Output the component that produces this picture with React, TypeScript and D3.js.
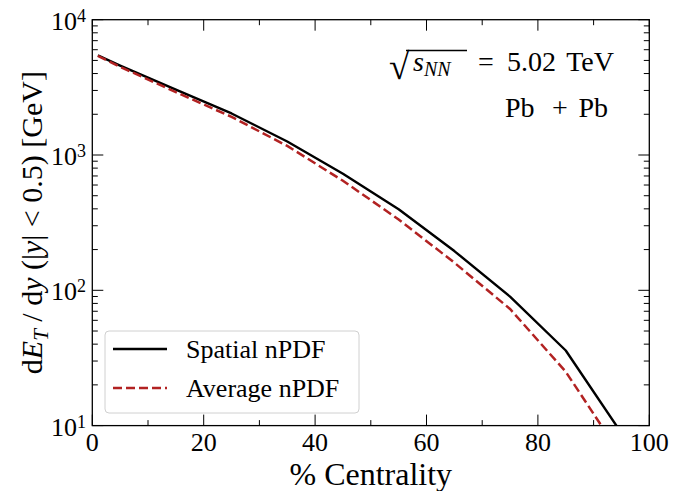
import React from "react";
import * as d3 from "d3";

const centrality = [1, 5, 15, 25, 35, 45, 55, 65, 75, 85, 95];
const spatial = [5445, 4580, 3040, 2028, 1259, 726, 397, 195, 89.8, 35.9, 8.8];
const average = [5395, 4480, 2917, 1914, 1167, 645, 334, 160, 72.8, 25.0, 5.97];
const xTicks = [0, 20, 40, 60, 80, 100];
const xMinor = [10, 30, 50, 70, 90];
const yExps = [1, 2, 3, 4];
const seriesNames = ["Spatial nPDF", "Average nPDF"];

const W = 685, H = 491;
const L = 92.3, R = 649.3, T = 19.7, B = 425.6;
const FONT = "'Liberation Serif', 'Times New Roman', serif";

export default function App() {
  const x = d3.scaleLinear().domain([0, 100]).range([L, R]);
  const y = d3.scaleLog().domain([10, 10000]).range([B, T]);
  const line = d3.line<number>().x((_, i) => x(centrality[i])).y((d) => y(d));
  const yMinor: number[] = [];
  for (let e = 1; e < 4; e++) for (let k = 2; k <= 9; k++) yMinor.push(k * Math.pow(10, e));
  const MAJ = 11, MIN = 5.5;
  const tickStroke = { stroke: "#000", strokeWidth: 1 };
  return (
    <svg width={W} height={H} style={{ position: "absolute", left: 0, top: 0, background: "#fff" }} fontFamily={FONT}>
      <defs>
        <clipPath id="plotclip">
          <rect x={L} y={T} width={R - L} height={B - T} />
        </clipPath>
      </defs>
      <g clipPath="url(#plotclip)">
        <path d={line(spatial) || ""} fill="none" stroke="#000" strokeWidth={2.4} strokeLinejoin="round" />
        <path d={line(average) || ""} fill="none" stroke="#b22222" strokeWidth={2.5} strokeDasharray="9,4" />
      </g>
      {xTicks.map((t) => (
        <g key={"xt" + t}>
          <line x1={x(t)} x2={x(t)} y1={B} y2={B - MAJ} {...tickStroke} />
          <line x1={x(t)} x2={x(t)} y1={T} y2={T + MAJ} {...tickStroke} />
          <text x={x(t)} y={B + 25} textAnchor="middle" fontSize={26}>{t}</text>
        </g>
      ))}
      {xMinor.map((t) => (
        <g key={"xm" + t}>
          <line x1={x(t)} x2={x(t)} y1={B} y2={B - MIN} {...tickStroke} />
          <line x1={x(t)} x2={x(t)} y1={T} y2={T + MIN} {...tickStroke} />
        </g>
      ))}
      {yExps.map((e) => {
        const v = Math.pow(10, e);
        return (
          <g key={"yt" + e}>
            <line x1={L} x2={L + MAJ} y1={y(v)} y2={y(v)} {...tickStroke} />
            <line x1={R} x2={R - MAJ} y1={y(v)} y2={y(v)} {...tickStroke} />
            <text x={86} y={y(v) + 10} textAnchor="end" fontSize={26}>
              10<tspan fontSize={18} dy={-8}>{e}</tspan>
            </text>
          </g>
        );
      })}
      {yMinor.map((v) => (
        <g key={"ym" + v}>
          <line x1={L} x2={L + MIN} y1={y(v)} y2={y(v)} {...tickStroke} />
          <line x1={R} x2={R - MIN} y1={y(v)} y2={y(v)} {...tickStroke} />
        </g>
      ))}
      <rect x={L} y={T} width={R - L} height={B - T} fill="none" stroke="#000" strokeWidth={1.3} />
      <text x={(L + R) / 2} y={485} textAnchor="middle" fontSize={32}>% Centrality</text>
      <text transform={`translate(42,${(T + B) / 2}) rotate(-90)`} textAnchor="middle" fontSize={30}>
        d<tspan fontStyle="italic">E</tspan>
        <tspan fontStyle="italic" fontSize={21} dy={6}>T</tspan>
        <tspan dy={-6}> / d</tspan>
        <tspan fontStyle="italic">y</tspan>
        <tspan> (|</tspan>
        <tspan fontStyle="italic">y</tspan>
        <tspan>| &lt; 0.5)  [GeV]</tspan>
      </text>
      <text x={389} y={79} fontSize={37}>√</text>
      <line x1={406} x2={467} y1={50.5} y2={50.5} stroke="#000" strokeWidth={1.4} />
      <text x={413} y={71} fontSize={28}>
        <tspan fontStyle="italic">s</tspan>
        <tspan fontStyle="italic" fontSize={20} dy={5}>NN</tspan>
      </text>
      <text x={486} y={71} textAnchor="middle" fontSize={28}>=</text>
      <text x={507} y={71} fontSize={28}>5.02</text>
      <text x={614} y={71} textAnchor="end" fontSize={28}>TeV</text>
      <text x={505} y={117} fontSize={28}>Pb</text>
      <text x={560} y={117} textAnchor="middle" fontSize={28}>+</text>
      <text x={608} y={117} textAnchor="end" fontSize={28}>Pb</text>
      <rect x={105} y={331} width={254} height={82} rx={4} fill="#fff" fillOpacity={0.8} stroke="#d0d0d0" strokeWidth={1} />
      <line x1={113} x2={167} y1={349} y2={349} stroke="#000" strokeWidth={2.6} />
      <line x1={113} x2={167} y1={388} y2={388} stroke="#b22222" strokeWidth={2.6} strokeDasharray="9,4" />
      <text x={186} y={358} fontSize={26}>{seriesNames[0]}</text>
      <text x={186} y={397} fontSize={26}>{seriesNames[1]}</text>
    </svg>
  );
}
